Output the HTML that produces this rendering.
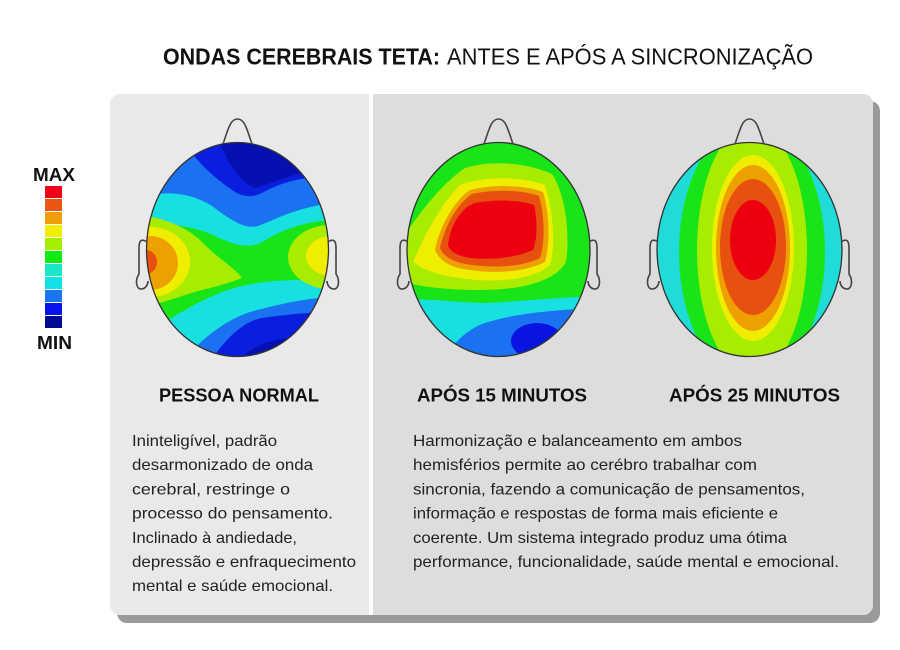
<!DOCTYPE html>
<html>
<head>
<meta charset="utf-8">
<style>
  html,body{margin:0;padding:0;background:#ffffff;}
  svg{display:block;}
  text{font-family:"Liberation Sans", Arial, sans-serif;}
</style>
</head>
<body>
<svg width="900" height="650" viewBox="0 0 900 650" xmlns="http://www.w3.org/2000/svg">
  <defs>
    <clipPath id="c1"><ellipse cx="237.5" cy="249.5" rx="91" ry="107"/></clipPath>
    <clipPath id="c2"><ellipse cx="498.5" cy="249.5" rx="91.5" ry="107"/></clipPath>
    <clipPath id="c3"><ellipse cx="749.5" cy="249.5" rx="92.5" ry="107"/></clipPath>
  </defs>

  <!-- Title -->
  <text x="163" y="64.5" font-size="23" font-weight="bold" fill="#111" textLength="277" lengthAdjust="spacingAndGlyphs">ONDAS CEREBRAIS TETA:</text>
  <text x="447" y="64.5" font-size="23" fill="#111" textLength="366" lengthAdjust="spacingAndGlyphs">ANTES E APÓS A SINCRONIZAÇÃO</text>

  <!-- Legend -->
  <text x="33" y="181" font-size="18.5" font-weight="bold" fill="#111" textLength="42" lengthAdjust="spacingAndGlyphs">MAX</text>
  <rect x="45" y="186" width="17" height="12" fill="#f00018"/>
  <rect x="45" y="199" width="17" height="12" fill="#ea5512"/>
  <rect x="45" y="212" width="17" height="12" fill="#ef9e0a"/>
  <rect x="45" y="225" width="17" height="12" fill="#f2f000"/>
  <rect x="45" y="238" width="17" height="12" fill="#a4ee00"/>
  <rect x="45" y="251" width="17" height="12" fill="#10ec10"/>
  <rect x="45" y="264" width="17" height="12" fill="#1ae6c8"/>
  <rect x="45" y="277" width="17" height="12" fill="#10e2e8"/>
  <rect x="45" y="290" width="17" height="12" fill="#1876f0"/>
  <rect x="45" y="303" width="17" height="12" fill="#0812ea"/>
  <rect x="45" y="316" width="17" height="12" fill="#000a92"/>
  <text x="37" y="349" font-size="18.5" font-weight="bold" fill="#111" textLength="35" lengthAdjust="spacingAndGlyphs">MIN</text>

  <!-- Panel shadow -->
  <rect x="117" y="101" width="763" height="522" rx="10" fill="#9a9a9a"/>
  <!-- Panels -->
  <rect x="110" y="94" width="763" height="521" rx="10" fill="#e9e9e9"/>
  <path d="M373,94 L863,94 A10,10 0 0 1 873,104 L873,605 A10,10 0 0 1 863,615 L373,615 Z" fill="#dddddd"/>
  <rect x="369" y="94" width="4" height="521" fill="#ffffff"/>

  <!-- ============ HEAD 1 ============ -->
  <g clip-path="url(#c1)">
    <rect x="140" y="130" width="200" height="240" fill="#18e418"/>
    <path d="M140,130 L140,226 C165,222 195,226 215,236 C232,244 248,250 262,242 C282,230 305,220 340,220 L340,130 Z" fill="#18e0e0"/>
    <path d="M140,130 L140,198 C165,190 190,192 212,206 C228,218 244,230 258,226 C275,220 295,207 340,202 L340,130 Z" fill="#1a72f0"/>
    <path d="M185,130 L190,150 C200,165 215,178 232,190 C242,197 252,198 262,193 C280,183 300,176 340,176 L340,130 Z" fill="#0a1ee0"/>
    <path d="M215,130 C225,160 240,183 255,188 C275,182 300,172 330,165 L340,130 Z" fill="#0610b0"/>
    <path d="M140,370 L140,340 C160,325 185,308 215,295 C240,284 270,280 300,280 C315,280 330,282 340,284 L340,370 Z" fill="#18e0e0"/>
    <path d="M175,370 C195,345 220,322 250,312 C275,305 305,298 340,296 L340,370 Z" fill="#1a72f0"/>
    <path d="M205,370 C220,345 240,322 262,318 C285,315 305,312 340,312 L340,370 Z" fill="#0a1ee0"/>
    <path d="M228,370 C245,350 265,340 290,338 C310,336 325,336 340,334 L340,370 Z" fill="#0610b0"/>
    <path d="M140,215 C165,218 190,228 205,245 C220,260 235,268 242,278 C225,285 200,290 185,295 C170,300 155,305 140,308 Z" fill="#a8ec00"/>
    <ellipse cx="150" cy="262" rx="40" ry="35" fill="#f0ee00"/>
    <ellipse cx="150" cy="263" rx="28" ry="27" fill="#eea000"/>
    <ellipse cx="146" cy="262" rx="11" ry="12" fill="#e85010"/>
    <ellipse cx="330" cy="257" rx="42" ry="32" fill="#a8ec00"/>
    <ellipse cx="331" cy="256" rx="25" ry="20" fill="#f0ee00"/>
  </g>
  <ellipse cx="237.5" cy="249.5" rx="91" ry="107" fill="none" stroke="#333" stroke-width="1.3"/>
  <g fill="none" stroke="#444" stroke-width="1.6">
    <path d="M223,144 C228,130 230,119 237.5,119 C245,119 247,130 252,144"/>
    <path d="M147,242 C141,238 139,241 139,248 L139,274 C135,280 136,289 141,289 C146,289 148,284 148,281"/>
    <path d="M328,242 C334,238 336,241 336,248 L336,274 C340,280 339,289 334,289 C329,289 327,284 327,281"/>
  </g>

  <!-- ============ HEAD 2 ============ -->
  <g clip-path="url(#c2)">
    <rect x="400" y="130" width="200" height="240" fill="#18e418"/>
    <path d="M400,370 L400,300 C430,298 460,303 485,303 C515,302 545,298 600,296 L600,370 Z" fill="#18e0e0"/>
    <path d="M440,370 C450,345 465,330 485,323 C510,315 545,310 600,308 L600,370 Z" fill="#1a72f0"/>
    <ellipse cx="537" cy="341" rx="26" ry="18" fill="#0a14e0"/>
    <path d="M405,235 C418,215 440,185 465,168 C490,160 525,162 552,174 C566,195 570,235 566,262 C555,282 520,290 480,290 C455,290 425,288 405,282 Z" fill="#a8ec00"/>
    <path d="M413,262 C425,235 440,205 460,185 C485,176 520,176 545,185 C553,210 556,245 550,265 C535,278 505,282 478,280 C455,278 430,275 413,262 Z" fill="#f0ee00"/>
    <path d="M435,250 C440,225 455,200 470,190 C495,184 525,185 543,192 C550,215 550,245 545,262 C525,272 495,274 470,270 C452,268 440,262 435,250 Z" fill="#eea000"/>
    <path d="M440,248 C445,225 458,203 472,194 C496,189 523,190 539,196 C545,217 545,243 540,258 C522,267 495,268 472,265 C456,263 444,258 440,248 Z" fill="#e85010"/>
    <path d="M448,245 C450,225 462,207 475,203 C497,199 520,200 534,205 C538,222 537,240 533,250 C515,258 490,260 470,258 C458,256 450,252 448,245 Z" fill="#ec0010"/>
  </g>
  <ellipse cx="498.5" cy="249.5" rx="91.5" ry="107" fill="none" stroke="#333" stroke-width="1.3"/>
  <g fill="none" stroke="#444" stroke-width="1.6" transform="translate(261,0)">
    <path d="M223,144 C228,130 230,119 237.5,119 C245,119 247,130 252,144"/>
    <path d="M147,242 C141,238 139,241 139,248 L139,274 C135,280 136,289 141,289 C146,289 148,284 148,281"/>
    <path d="M328,242 C334,238 336,241 336,248 L336,274 C340,280 339,289 334,289 C329,289 327,284 327,281"/>
  </g>

  <!-- ============ HEAD 3 ============ -->
  <g clip-path="url(#c3)">
    <rect x="650" y="130" width="200" height="240" fill="#20dcd8"/>
    <ellipse cx="752" cy="252" rx="73" ry="130" fill="#18e418"/>
    <ellipse cx="752" cy="250" rx="55" ry="125" fill="#a8ec00"/>
    <ellipse cx="753" cy="248" rx="41" ry="93" fill="#f0ee00"/>
    <ellipse cx="753" cy="248" rx="37" ry="83" fill="#eea000"/>
    <ellipse cx="753" cy="247" rx="33" ry="68" fill="#e85010"/>
    <ellipse cx="753" cy="240" rx="23" ry="40" fill="#ec0010"/>
  </g>
  <ellipse cx="749.5" cy="249.5" rx="92.5" ry="107" fill="none" stroke="#333" stroke-width="1.3"/>
  <g fill="none" stroke="#444" stroke-width="1.6" transform="translate(512,0)">
    <path d="M223,144 C228,130 230,119 237.5,119 C245,119 247,130 252,144"/>
    <path d="M146,242 C140,238 138,241 138,248 L138,274 C134,280 135,289 140,289 C145,289 147,284 147,281"/>
    <path d="M329,242 C335,238 337,241 337,248 L337,274 C341,280 340,289 335,289 C330,289 328,284 328,281"/>
  </g>

  <!-- Headings -->
  <text x="159" y="401.5" font-size="18.5" font-weight="bold" fill="#111" textLength="160" lengthAdjust="spacingAndGlyphs">PESSOA NORMAL</text>
  <text x="417" y="401.5" font-size="18.5" font-weight="bold" fill="#111" textLength="170" lengthAdjust="spacingAndGlyphs">APÓS 15 MINUTOS</text>
  <text x="669" y="401.5" font-size="18.5" font-weight="bold" fill="#111" textLength="171" lengthAdjust="spacingAndGlyphs">APÓS 25 MINUTOS</text>

  <!-- Left body -->
  <g font-size="16" fill="#222">
    <text x="132" y="446" textLength="145" lengthAdjust="spacingAndGlyphs">Ininteligível, padrão</text>
    <text x="132" y="470.2" textLength="181" lengthAdjust="spacingAndGlyphs">desarmonizado de onda</text>
    <text x="132" y="494.4" textLength="158" lengthAdjust="spacingAndGlyphs">cerebral, restringe o</text>
    <text x="132" y="518.6" textLength="201" lengthAdjust="spacingAndGlyphs">processo do pensamento.</text>
    <text x="132" y="542.8" textLength="165" lengthAdjust="spacingAndGlyphs">Inclinado à andiedade,</text>
    <text x="132" y="567" textLength="224" lengthAdjust="spacingAndGlyphs">depressão e enfraquecimento</text>
    <text x="132" y="591.2" textLength="201" lengthAdjust="spacingAndGlyphs">mental e saúde emocional.</text>
  </g>

  <!-- Right body -->
  <g font-size="16" fill="#222">
    <text x="413" y="446" textLength="329" lengthAdjust="spacingAndGlyphs">Harmonização e balanceamento em ambos</text>
    <text x="413" y="470.2" textLength="344" lengthAdjust="spacingAndGlyphs">hemisférios permite ao cerébro trabalhar com</text>
    <text x="413" y="494.4" textLength="392" lengthAdjust="spacingAndGlyphs">sincronia, fazendo a comunicação de pensamentos,</text>
    <text x="413" y="518.6" textLength="365" lengthAdjust="spacingAndGlyphs">informação e respostas de forma mais eficiente e</text>
    <text x="413" y="542.8" textLength="374" lengthAdjust="spacingAndGlyphs">coerente. Um sistema integrado produz uma ótima</text>
    <text x="413" y="567" textLength="426" lengthAdjust="spacingAndGlyphs">performance, funcionalidade, saúde mental e emocional.</text>
  </g>
</svg>
</body>
</html>
